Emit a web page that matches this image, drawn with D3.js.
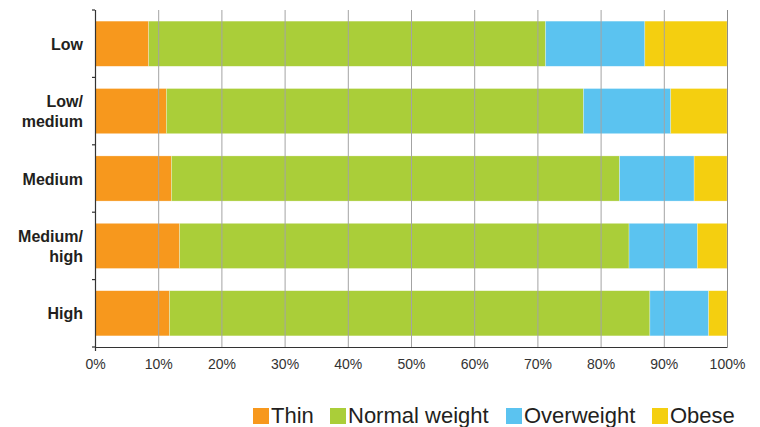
<!DOCTYPE html>
<html><head><meta charset="utf-8">
<script src="https://cdn.jsdelivr.net/npm/d3@7"></script>
<style>body{margin:0;background:#fff}svg{display:block}text{font-family:"Liberation Sans",Arial,sans-serif}</style>
</head><body>
<svg id="c" width="760" height="427"></svg>
<script>
const categories = ["Low", "Low/medium", "Medium", "Medium/high", "High"];
const categoryLines = [["Low"], ["Low/", "medium"], ["Medium"], ["Medium/", "high"], ["High"]];
const seriesNames = ["Thin", "Normal weight", "Overweight", "Obese"];
const thin = [8.5, 11.3, 12.1, 13.4, 11.8];
const normal = [62.8, 66.0, 70.9, 71.1, 76.0];
const overweight = [15.7, 13.8, 11.8, 10.8, 9.3];
const obese = [13.0, 8.9, 5.2, 4.7, 2.9];
const xTicks = [0, 10, 20, 30, 40, 50, 60, 70, 80, 90, 100];
const colors = ["#F7981D", "#AACE39", "#5BC3F0", "#F4CF10"];

const FONT = "'Liberation Sans', Arial, sans-serif";
const svg = d3.select("#c");
const m = {left: 95, right: 727, top: 10, bottom: 347};
const x = d3.scaleLinear().domain([0, 100]).range([m.left, m.right]);
const y = d3.scaleBand().domain(categories).range([m.top, m.bottom]).paddingInner(0.33).paddingOuter(0.165);
const yb = d3.scaleBand().domain(categories).range([m.top, m.bottom]);

const rows = categories.map((c, i) => ({cat: c, Thin: thin[i], "Normal weight": normal[i], Overweight: overweight[i], Obese: obese[i]}));
const stacked = d3.stack().keys(seriesNames)(rows);

svg.append("g").selectAll("g").data(stacked).join("g")
  .attr("fill", (d, i) => colors[i])
  .selectAll("rect").data(d => d).join("rect")
  .attr("x", d => x(d[0]))
  .attr("width", d => x(d[1]) - x(d[0]))
  .attr("y", d => y(d.data.cat))
  .attr("height", y.bandwidth())
  .attr("stroke", "rgba(255,255,255,0.45)")
  .attr("stroke-width", 0.6);

// gridlines on top
svg.append("g").selectAll("line").data(xTicks.slice(1)).join("line")
  .attr("x1", d => x(d) + 0.5).attr("x2", d => x(d) + 0.5)
  .attr("y1", m.top).attr("y2", m.bottom)
  .attr("stroke", d => d === 100 ? "#8c8c8c" : "#a3a3a3").attr("stroke-width", 1);

// y axis line and boundary ticks
const yAxis = svg.append("g").attr("stroke", "#333");
yAxis.append("line").attr("x1", m.left + 0.5).attr("x2", m.left + 0.5).attr("y1", m.top).attr("y2", m.bottom + 4).attr("stroke-width", 1.2);
yAxis.selectAll("line.t").data(categories.concat(["_end"])).join("line").attr("class", "t")
  .attr("x1", m.left - 3).attr("x2", m.left)
  .attr("y1", (d, i) => i < categories.length ? yb(d) : m.bottom)
  .attr("y2", (d, i) => i < categories.length ? yb(d) : m.bottom)
  .attr("stroke-width", 1.2);

// x axis
const xAxis = svg.append("g").attr("transform", `translate(0,${m.bottom})`)
  .call(d3.axisBottom(x).tickValues(xTicks).tickSize(0).tickFormat(d => d + "%"));
xAxis.attr("font-family", FONT);
xAxis.select(".domain").attr("stroke", "#333").attr("stroke-width", 1.2).attr("d", `M${m.left},0.5H${m.right + 0.5}`);
xAxis.selectAll("text").attr("font-family", FONT).attr("font-size", 14).attr("fill", "#333").attr("dy", "1.35em");

// category labels
const lab = svg.append("g").attr("font-family", FONT).attr("font-weight", "bold").attr("font-size", 16).attr("fill", "#231f20").attr("text-anchor", "end");
categories.forEach((c, i) => {
  const lines = categoryLines[i];
  const cy = yb(c) + yb.bandwidth() / 2;
  const t = lab.append("text").attr("x", 83).attr("y", cy);
  lines.forEach((l, j) => {
    t.append("tspan").attr("x", 83)
      .attr("y", cy + 6 + (j - (lines.length - 1) / 2) * 20)
      .text(l);
  });
});

// legend
const legX = [253, 330, 506, 652];
const leg = svg.append("g").attr("font-family", FONT).attr("font-size", 22).attr("fill", "#231f20");
seriesNames.forEach((s, i) => {
  leg.append("rect").attr("x", legX[i]).attr("y", 408).attr("width", 16).attr("height", 16).attr("fill", colors[i]);
  leg.append("text").attr("x", legX[i] + 18).attr("y", 423).text(s);
});
</script>
</body></html>
